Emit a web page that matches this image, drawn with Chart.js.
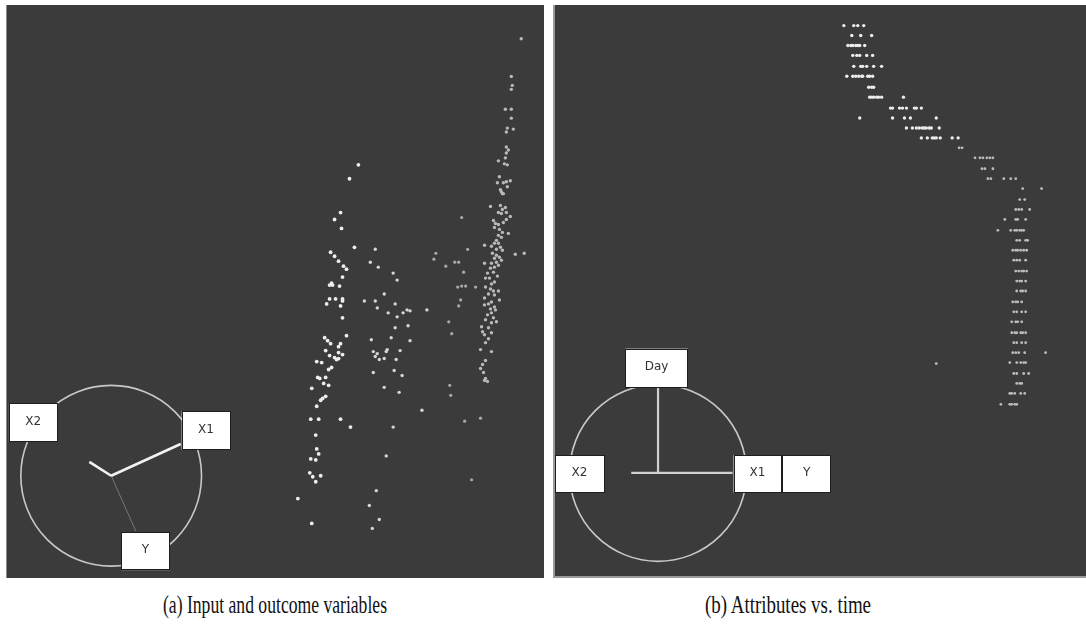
<!DOCTYPE html>
<html>
<head>
<meta charset="utf-8">
<script src="https://cdn.jsdelivr.net/npm/chart.js@4/dist/chart.umd.min.js"></script>
<style>
  html, body { margin: 0; padding: 0; background: #ffffff; width: 1086px; height: 626px; overflow: hidden; }
  .panel { position: absolute; background: #3b3b3b; }
  .panel canvas { display: block; }
  #pa { left: 6px; top: 5px; width: 538px; height: 573px; border-left: 1px solid #8a8a8a; box-sizing: border-box; }
  #pb { left: 553px; top: 5px; width: 533px; height: 573px; border-left: 2px solid #9a9a9a; border-bottom: 2px solid #9a9a9a; box-sizing: border-box; }
  .cap { position: absolute; top: 590px; font-family: "Liberation Serif", "DejaVu Serif", serif; font-size: 26px; color: #111; white-space: nowrap; transform-origin: 0 0; }
</style>
</head>
<body>
<div class="panel" id="pa"><canvas id="ca" width="537" height="573"></canvas></div>
<div class="panel" id="pb"><canvas id="cb" width="531" height="571"></canvas></div>
<div class="cap" id="capA" data-left="163" data-width="224">(a) Input and outcome variables</div>
<div class="cap" id="capB" data-left="705" data-width="166">(b) Attributes vs. time</div>
<script>
// ---------------- Panel (a): projected coordinates (arbitrary units) ----------------
const a1X = [352,343,334,328,335,348,324,328,332,337,340,336,325,323,326,333,323,329,336,336,320,334,336,340,318,321,324,334,332,319,332,336,323,328,330,332,310,315,325,322,311,313,319,317,322,305,319,316,314,310,304,312,334,344,309,310,312,304,309,303,306,309,314,291,305];
const a1Y = [414,400,366,359,350,331,326,322,317,312,309,301,295,293,293,292,279,279,279,277,274,272,260,242,240,237,234,234,231,227,225,223,222,220,218,219,216,215,210,208,200,199,200,194,192,189,181,179,177,171,158,158,158,150,142,128,123,118,117,104,100,95,101,78,53];

const a2X = [369,364,372,387,391,378,358,369,389,371,382,397,401,404,391,402,389,385,365,404,367,371,369,381,380,373,378,394,390,367,388,396,378,393,387,380,370,363,373,366,416,421];
const a2Y = [329,316,311,305,298,284,277,277,274,270,265,265,268,267,261,252,250,240,238,237,226,224,221,228,226,218,219,227,218,205,207,202,190,185,150,121,86,71,57,48,167,268];

const a3X = [456,462,430,428,440,449,453,458,452,456,460,470,455,453,443,446,444,445,459,475,466];
const a3Y = [361,329,325,319,312,316,316,306,291,292,292,291,278,272,256,244,192,182,156,159,97];

const a4X = [516,506,507,506,500,506,506,502,508,501,501,503,501,500,493,499,502,494,492,498,501,505,502,495,496,497,498,485,495,497,500,501,493,496,505,488,490,493,498,501,489,494,497,503,493,496,491,489,493,495,486,479,491,497,510,519,487,491,494,489,486,491,496,493,489,485,479,482,488,492,480,484,489,486,480,485,488,493,483,489,494,479,486,483,489,479,485,490,486,482,488,491,480,486,476,483,477,486,479,483,480,475,486,480,477,475,478,480,482,479];
const a4Y = [541,503,494,490,470,470,461,451,450,447,432,429,426,421,418,415,414,402,396,396,397,398,392,389,387,385,385,372,373,369,371,366,366,365,362,358,355,354,356,359,351,349,346,345,343,341,338,335,335,331,332,333,329,328,324,325,325,323,321,320,315,316,318,313,311,310,315,305,306,302,300,300,296,294,291,289,287,287,284,283,278,280,276,274,271,273,269,268,265,263,260,256,258,255,251,250,246,245,243,239,235,228,226,217,213,209,205,199,196,197];

// star-coordinate glyph (a)
const aCenter = { x: 103, y: 101 };
const aRadius = 91;
const aAxisLabels = ["X1", "X2", "Y"];
const aAxisEnds = [ { x: 173, y: 133 }, { x: 81, y: 115 }, { x: 128, y: 45 } ];
const aBoxes = [ { x0: 174, x1: 223, y0: 127, y1: 166 }, { x0: 0, x1: 49, y0: 135, y1: 174 }, { x0: 113, x1: 162, y0: 6, y1: 44 } ];

// ---------------- Panel (b) ----------------
const bTopX = [289,299,303,309, 297,306,317, 293,296,298,301,303,305,310, 298,302,305,312,318, 299,306,308,312,319,327, 292,298,301,304,307,308,313,315,318, 314,317,319, 315,317,319,322,324,327,349, 336,338,345,348,352,360,362,367, 305,338,350,356,382, 352,358,362,365,368,370,372,375,377,385, 367,373,378,380,382,386,398,404];
const bTopY = [552,552,552,552, 542,542,542, 532,532,532,532,532,532,532, 522,522,522,522,522, 511,511,511,511,511,511, 501,501,501,501,501,501,501,501,501, 490,490,490, 480,480,480,480,480,480,480, 469,469,469,469,469,469,469,469, 459,459,459,459,459, 449,449,449,449,449,449,449,449,449,449, 439,439,439,439,439,439,439,439];

const bLowX = [405,408, 421,426,429,433,436,439, 428,431,439, 434,437,450,457,462, 469,488, 466,471, 462,465,468,476, 451,462,464,472, 444,457,461,463,466,468,470, 463,466,472,474, 459,462,464,467,470,473, 460,463,466,472, 462,465,468,470,473, 463,466,468,472, 463,467,469,472, 459,462,464,468, 460,463,468,472, 458,462,464,468, 458,461,463,467,469,472, 460,463,468,472, 459,462,465,471,492, 456,463,467,470,472, 460,463,470,475, 463,466,468, 456,458,461,467,471, 447,456,458,461,463, 382];
const bLowY = [429,429, 419,419,419,419,419,419, 408,408,408, 398,398,398,398,398, 388,388, 377,377, 367,367,367,367, 357,357,357,357, 346,346,346,346,346,346,346, 336,336,336,336, 326,326,326,326,326,326, 316,316,316,316, 305,305,305,305,305, 295,295,295,295, 285,285,285,285, 274,274,274,274, 264,264,264,264, 254,254,254,254, 243,243,243,243,243,243, 233,233,233,233, 223,223,223,223,223, 213,213,213,213,213, 202,202,202,202, 192,192,192, 182,182,182,182,182, 171,171,171,171,171, 212];

const bCenter = { x: 102, y: 102 };
const bRadius = 89;
const bAxisEnds = [ { x: 102, y: 188 }, { x: 75, y: 102 }, { x: 177, y: 102 } ];
const bAxisLabels = ["Day", "X2", "X1", "Y"];
const bBoxes = [ { x0: 69, x1: 132, y0: 188, y1: 227 }, { x0: -2, x1: 48, y0: 82, y1: 120 }, { x0: 178, x1: 226, y0: 82, y1: 120 }, { x0: 227, x1: 276, y0: 82, y1: 120 } ];

// ---------------- helpers ----------------
function pts(xs, ys) { return xs.map((x, i) => ({ x: x, y: ys[i] })); }
function scatterDs(xs, ys, color, r) {
  return { type: 'scatter', data: pts(xs, ys), backgroundColor: color, borderWidth: 0, pointRadius: r, pointHoverRadius: r, order: 1 };
}
function lineDs(p0, p1, color, w) {
  return { type: 'line', data: [p0, p1], borderColor: color, borderWidth: w, pointRadius: 0, showLine: true, fill: false, tension: 0, order: 2 };
}

const glyphPlugin = {
  id: 'glyph',
  beforeDatasetsDraw(chart) {
    const g = chart.options.plugins.glyph;
    const xs = chart.scales.x, ys = chart.scales.y, ctx = chart.ctx;
    const cx = xs.getPixelForValue(g.center.x), cy = ys.getPixelForValue(g.center.y);
    const r = xs.getPixelForValue(g.center.x + g.radius) - cx;
    ctx.save();
    ctx.strokeStyle = '#c9c9c9';
    ctx.lineWidth = 1.6;
    ctx.beginPath();
    ctx.arc(cx, cy, r, 0, Math.PI * 2);
    ctx.stroke();
    ctx.restore();
  },
  afterDatasetsDraw(chart) {
    const g = chart.options.plugins.glyph;
    const xs = chart.scales.x, ys = chart.scales.y, ctx = chart.ctx;
    ctx.save();
    g.boxes.forEach((b, i) => {
      const x0 = xs.getPixelForValue(b.x0), x1 = xs.getPixelForValue(b.x1);
      const y0 = ys.getPixelForValue(b.y1), y1 = ys.getPixelForValue(b.y0);
      ctx.fillStyle = '#ffffff';
      ctx.fillRect(x0, y0, x1 - x0, y1 - y0);
      ctx.strokeStyle = '#1e1e1e';
      ctx.lineWidth = 1;
      ctx.strokeRect(Math.round(x0) + 0.5, Math.round(y0) + 0.5, Math.round(x1 - x0) - 1, Math.round(y1 - y0) - 1);
      ctx.fillStyle = '#333333';
      ctx.font = '12px "DejaVu Sans", sans-serif';
      ctx.textAlign = 'center';
      ctx.textBaseline = 'middle';
      ctx.fillText(g.labels[i], (x0 + x1) / 2, (y0 + y1) / 2 - 1);
    });
    ctx.restore();
  }
};

function baseOptions(w, h, glyph) {
  return {
    responsive: false,
    animation: false,
    devicePixelRatio: 1,
    layout: { padding: 0 },
    events: [],
    scales: {
      x: { type: 'linear', min: 0, max: w, display: false },
      y: { type: 'linear', min: 0, max: h, display: false }
    },
    plugins: { legend: { display: false }, tooltip: { enabled: false }, glyph: glyph }
  };
}

new Chart(document.getElementById('ca'), {
  type: 'scatter',
  data: {
    datasets: [
      lineDs(aCenter, aAxisEnds[0], '#f2f2f2', 2.6),
      lineDs(aCenter, aAxisEnds[1], '#f2f2f2', 2.6),
      lineDs(aCenter, aAxisEnds[2], '#777777', 1),
      scatterDs(a1X, a1Y, '#ededed', 1.9),
      scatterDs(a2X, a2Y, '#d6d6d6', 1.7),
      scatterDs(a3X, a3Y, '#a9a9a9', 1.6),
      scatterDs(a4X, a4Y, '#b9b9b9', 1.7)
    ]
  },
  options: baseOptions(537, 573, { center: aCenter, radius: aRadius, boxes: aBoxes, labels: ["X1", "X2", "Y"] }),
  plugins: [glyphPlugin]
});

new Chart(document.getElementById('cb'), {
  type: 'scatter',
  data: {
    datasets: [
      lineDs(bCenter, bAxisEnds[0], '#d0d0d0', 2.2),
      lineDs(bAxisEnds[1], bAxisEnds[2], '#d0d0d0', 2.2),
      scatterDs(bTopX, bTopY, '#ececec', 1.7),
      scatterDs(bLowX, bLowY, '#bdbdbd', 1.4)
    ]
  },
  options: baseOptions(531, 571, { center: bCenter, radius: bRadius, boxes: bBoxes, labels: bAxisLabels }),
  plugins: [glyphPlugin]
});

// fit captions to their measured spans
document.querySelectorAll('.cap').forEach(el => {
  const w = el.getBoundingClientRect().width;
  const target = parseFloat(el.dataset.width);
  el.style.left = el.dataset.left + 'px';
  el.style.transform = 'scaleX(' + (target / w) + ')';
});
</script>
</body>
</html>
